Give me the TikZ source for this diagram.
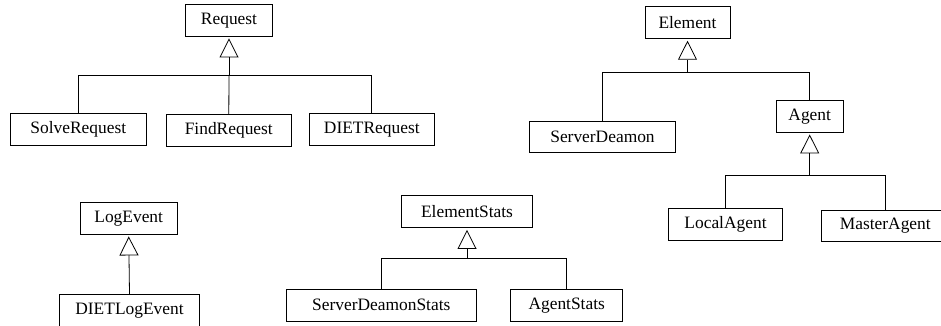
\documentclass[tikz,border=0pt]{standalone}
\usepackage{fontspec}
\setmainfont{Liberation Serif}
\usetikzlibrary{arrows.meta}
\begin{document}
\begin{tikzpicture}[x=1pt,y=-1pt,
  cls/.style={draw=black, line width=0.8pt, minimum height=31.7pt, inner sep=0pt,
    font=\fontsize{17.4}{20}\selectfont},
  link/.style={draw=black, line width=0.8pt},
  inherit/.style={link, -{Triangle[open, width=19pt, length=19pt]}, shorten >=2pt}]
\useasboundingbox (0,0) rectangle (941,326);
% Request hierarchy
\node[cls, minimum width=87.4pt] (req) at (229,20.2) {Request};
\node[cls, minimum width=136.7pt] (solve) at (78.3,129.3) {SolveRequest};
\node[cls, minimum width=124.3pt] (find) at (228.8,130.2) {FindRequest};
\node[cls, minimum width=125.7pt] (dietreq) at (371.8,129.2) {DIETRequest};
\coordinate (j1) at (229,75);
\draw[inherit] (j1) -- (req.south);
\draw[link] (solve.north) |- (j1);
\draw[link] (dietreq.north) |- (j1);
\draw[link] (find.north) -- (j1);
% Element hierarchy
\node[cls, minimum width=85pt] (elem) at (687.5,22.5) {Element};
\node[cls, minimum width=146.4pt] (sd) at (602.5,137) {ServerDeamon};
\node[cls, minimum width=67.3pt] (agent) at (809.7,116.2) {Agent};
\node[cls, minimum width=113.6pt] (la) at (725.5,224.2) {LocalAgent};
\node[cls, minimum width=128pt] (ma) at (885.3,226) {MasterAgent};
\coordinate (j2) at (687.5,72);
\draw[inherit] (j2) -- (elem.south);
\draw[link] (sd.north) |- (j2);
\draw[link] (agent.north) |- (j2);
\coordinate (j3) at (809.7,175);
\draw[inherit] (j3) -- (agent.south);
\draw[link] (la.north) |- (j3);
\draw[link] (ma.north) |- (j3);
% LogEvent hierarchy
\node[cls, minimum width=96.7pt] (log) at (128.7,218.2) {LogEvent};
\node[cls, minimum width=140.4pt] (dietlog) at (129.5,310.3) {DIETLogEvent};
\draw[inherit] (dietlog.north) -- (log.south);
% ElementStats hierarchy
\node[cls, minimum width=130.6pt] (es) at (467,211.7) {ElementStats};
\node[cls, minimum width=190.7pt] (sds) at (381.3,305.2) {ServerDeamonStats};
\node[cls, minimum width=112pt] (as) at (566.7,305.3) {AgentStats};
\coordinate (j4) at (467,258.5);
\draw[inherit] (j4) -- (es.south);
\draw[link] (sds.north) |- (j4);
\draw[link] (as.north) |- (j4);
\end{tikzpicture}
\end{document}
